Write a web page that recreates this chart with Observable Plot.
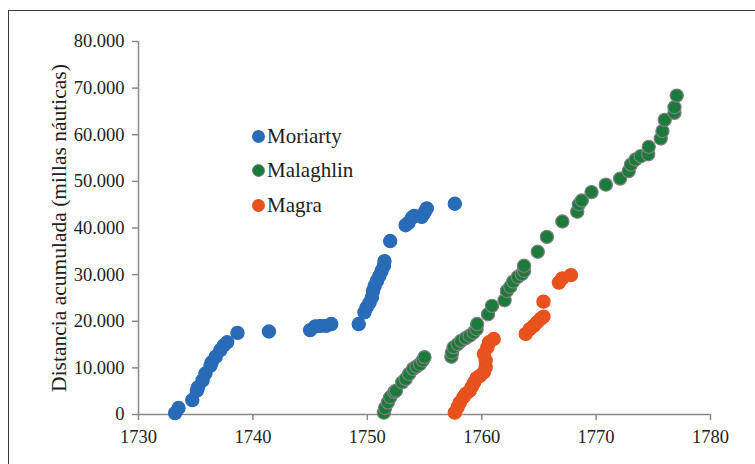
<!DOCTYPE html>
<html>
<head>
<meta charset="utf-8">
<script src="https://cdn.jsdelivr.net/npm/d3@7"></script>
<script src="https://cdn.jsdelivr.net/npm/@observablehq/plot@0.6"></script>
<style>
  html, body { margin: 0; padding: 0; background: #fff; width: 755px; height: 464px; overflow: hidden; }
  #wrap { position: relative; width: 755px; height: 464px; }
  #frame { position: absolute; left: 8px; top: 10px; width: 800px; height: 500px; border: 1.5px solid #3a3a3a; box-sizing: border-box; }
  #chart { position: absolute; left: 0; top: 0; }
  .leg { position: absolute; left: 252px; font-family: "Liberation Serif", "Times New Roman", serif; font-size: 21px; color: #222; line-height: 22px; display: flex; align-items: center; }
  .leg i { display: inline-block; width: 13px; height: 13px; border-radius: 50%; margin-right: 2px; box-sizing: border-box; }
</style>
</head>
<body>
<div id="wrap">
  <div id="frame"></div>
  <div id="chart"></div>
  <div id="legend"></div>
</div>
<script>
// Series names and colors
const seriesNames = ["Moriarty", "Malaghlin", "Magra"];
const seriesFill = ["#2a6bb8", "#1b7a3c", "#e8521f"];
const seriesStroke = ["#2a6bb8", "#808080", "#e8521f"];

// Moriarty
const moriartyYear = [1733.2, 1733.5, 1734.7, 1735.1, 1735.2, 1735.6, 1735.85, 1736.3, 1736.4, 1736.75, 1737.15, 1737.45, 1737.75, 1738.65, 1741.4, 1745.0, 1745.45, 1745.9, 1746.4, 1746.85, 1749.25, 1749.75, 1749.95, 1750.2, 1750.4, 1750.5, 1750.65, 1750.85, 1751.05, 1751.25, 1751.45, 1751.5, 1752.0, 1753.35, 1753.6, 1753.9, 1754.1, 1754.75, 1755.0, 1755.2, 1757.65];
const moriartyDist = [300, 1400, 3100, 5100, 5800, 7300, 8800, 10500, 11200, 12400, 13800, 14800, 15500, 17500, 17800, 18100, 18900, 19000, 19000, 19400, 19400, 21900, 23000, 24000, 25100, 26500, 27600, 28700, 29700, 30800, 31900, 32900, 37200, 40600, 41100, 42200, 42600, 42400, 43300, 44200, 45200];

// Malaghlin
const malaghlinYear = [1751.45, 1751.55, 1751.8, 1752.0, 1752.35, 1752.5, 1753.05, 1753.35, 1753.65, 1754.0, 1754.3, 1754.6, 1754.85, 1755.0, 1757.35, 1757.4, 1757.55, 1757.9, 1758.2, 1758.6, 1758.95, 1759.3, 1759.55, 1759.6, 1760.55, 1760.9, 1762.0, 1762.2, 1762.5, 1762.75, 1763.15, 1763.5, 1763.7, 1763.7, 1764.9, 1765.7, 1767.05, 1768.35, 1768.5, 1768.75, 1769.6, 1770.85, 1772.1, 1772.85, 1773.05, 1773.45, 1773.9, 1774.55, 1774.6, 1775.65, 1775.8, 1776.0, 1776.85, 1776.85, 1777.05];
const malaghlinDist = [400, 1400, 2600, 3700, 4800, 5100, 6900, 7600, 8700, 9800, 10300, 10800, 11600, 12300, 12400, 13300, 14400, 15100, 15800, 16400, 16900, 17600, 18300, 19400, 21500, 23300, 24500, 26500, 27400, 28500, 29500, 30100, 30800, 31900, 34900, 38100, 41400, 43500, 45100, 45900, 47700, 49300, 50600, 52200, 53600, 54700, 55400, 55800, 57400, 59200, 60800, 63200, 64700, 65900, 68400];

// Magra
const magraYear = [1757.65, 1757.9, 1758.1, 1758.4, 1758.6, 1758.95, 1759.15, 1759.35, 1759.55, 1759.85, 1760.2, 1760.35, 1760.35, 1760.2, 1760.5, 1760.65, 1761.05, 1763.85, 1764.2, 1764.55, 1764.85, 1765.15, 1765.4, 1765.4, 1766.75, 1767.05, 1767.8];
const magraDist = [400, 1600, 2600, 3700, 4400, 5100, 6000, 6900, 7800, 8300, 9100, 10100, 11600, 13000, 14400, 15500, 16200, 17300, 18300, 19000, 19800, 20500, 21000, 24200, 28300, 29200, 29900];

// Axis ticks
const xTicks = [1730, 1740, 1750, 1760, 1770, 1780];
const yTicks = [0, 10000, 20000, 30000, 40000, 50000, 60000, 70000, 80000];
const yLabel = "Distancia acumulada (millas náuticas)";

const years = [moriartyYear, malaghlinYear, magraYear];
const dists = [moriartyDist, malaghlinDist, magraDist];
const data = [];
seriesNames.forEach((s, i) => years[i].forEach((y, j) => data.push({series: s, year: y, dist: dists[i][j]})));

const fmt = d => d3.format(",")(d).replace(/,/g, ".");
const font = '"Liberation Serif", "Times New Roman", serif';

const plot = Plot.plot({
  width: 755,
  height: 464,
  marginLeft: 138,
  marginRight: 45,
  marginTop: 41,
  marginBottom: 50,
  style: {fontFamily: font, fontSize: "18.5px", color: "#222", background: "transparent"},
  x: {domain: [1730, 1780]},
  y: {domain: [0, 80000]},
  color: {domain: seriesNames, range: seriesFill},
  marks: [
    Plot.axisX({ticks: xTicks, tickFormat: d => String(d), tickSize: 6, tickPadding: 9, stroke: "#8a8a8a", strokeWidth: 1.5, label: null}),
    Plot.axisY({ticks: yTicks, tickFormat: fmt, tickSize: 6, tickPadding: 8, stroke: "#8a8a8a", strokeWidth: 1.5, label: null}),
    Plot.text([yLabel], {frameAnchor: "left", rotate: -90, dx: -79, fontSize: 21.5, fill: "#222", textAnchor: "middle", lineAnchor: "middle"}),
    Plot.ruleX([1730], {y1: 0, y2: 80000, stroke: "#8a8a8a", strokeWidth: 1.5}),
    Plot.ruleY([0], {x1: 1730, x2: 1780, stroke: "#8a8a8a", strokeWidth: 1.5}),
    Plot.dot(data, {x: "year", y: "dist", r: 6.6, fill: "series",
      stroke: d => seriesStroke[seriesNames.indexOf(d.series)], strokeWidth: 1.2, fillOpacity: 1})
  ]
});
document.getElementById("chart").appendChild(plot);

// legend
const legY = [136, 170, 205];
const leg = document.getElementById("legend");
seriesNames.forEach((s, i) => {
  const row = document.createElement("div");
  row.className = "leg";
  row.style.top = (legY[i] - 11) + "px";
  const dot = document.createElement("i");
  dot.style.background = seriesFill[i];
  if (i === 1) dot.style.border = "1.2px solid " + seriesStroke[i];
  row.appendChild(dot);
  row.appendChild(document.createTextNode(s));
  leg.appendChild(row);
});
</script>
</body>
</html>
